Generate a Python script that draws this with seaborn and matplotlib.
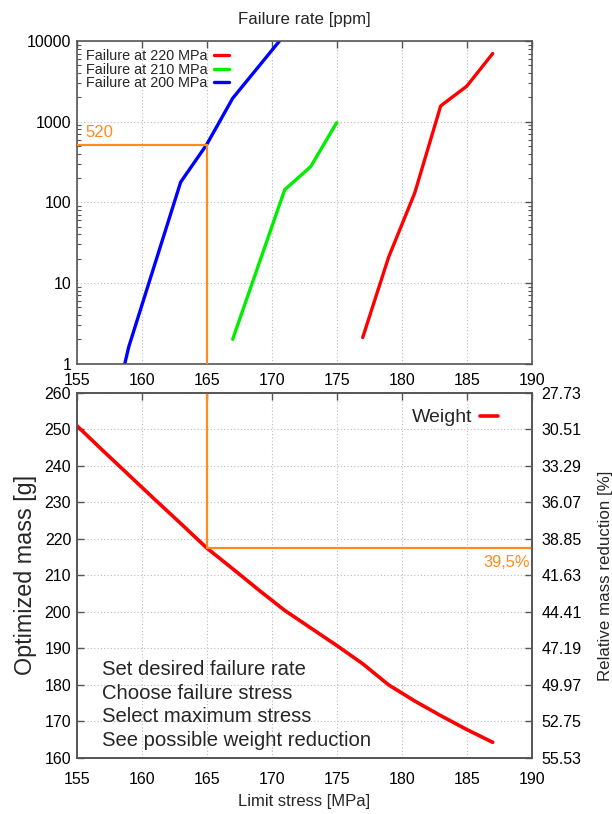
import numpy as np
import pandas as pd
import matplotlib
matplotlib.use("Agg")
import matplotlib.pyplot as plt
import seaborn as sns
from matplotlib.ticker import FixedLocator, NullFormatter, LogLocator

# ---------------- data ----------------
stress_220 = [177, 179, 181, 183, 185, 187]
rate_220 = [2.1, 21, 130, 1570, 2750, 7000]
stress_210 = [167, 171, 173, 175]
rate_210 = [2.0, 143, 277, 970]
stress_200 = [158.5, 159, 163, 165, 167, 171]
rate_200 = [0.72, 1.6, 178, 520, 1950, 12000]
series_labels = ["Failure at 220 MPa", "Failure at 210 MPa", "Failure at 200 MPa"]
series_colors = ["#ff0000", "#00ee00", "#0000ff"]

weight_stress = [155, 157, 159, 161, 163, 165, 167, 169, 171, 173, 175, 177, 179, 181, 183, 185, 187]
weight_mass = [251, 244.2, 237.5, 230.8, 224.2, 217.5, 211.8, 206.0, 200.4, 195.6, 190.8, 185.8, 180.0, 175.6, 171.6, 167.8, 164.3]

x_ticks = [155, 160, 165, 170, 175, 180, 185, 190]
rate_ticks = [1, 10, 100, 1000, 10000]
rate_tick_labels = ["1", "10", "100", "1000", "10000"]
mass_ticks = [160, 170, 180, 190, 200, 210, 220, 230, 240, 250, 260]
reduction_labels = ["55.53", "52.75", "49.97", "47.19", "44.41", "41.63",
                    "38.85", "36.07", "33.29", "30.51", "27.73"]

sel_stress = 165
sel_rate = 520
sel_mass = 217.5
sel_rate_label = "520"
sel_reduction_label = "39,5%"
notes = ["Set desired failure rate", "Choose failure stress",
         "Select maximum stress", "See possible weight reduction"]

# ---------------- style ----------------
sns.set_theme(style="white")
plt.rcParams["font.family"] = ["Liberation Sans", "DejaVu Sans"]
plt.rcParams["axes.edgecolor"] = "#555555"
plt.rcParams["axes.linewidth"] = 1.2

ORANGE = "#ff8a1e"
GRID = dict(color="#bbbbbb", linestyle=(0, (1, 2)), linewidth=0.8)
TICK_FS = 11.5

fig = plt.figure(figsize=(6.12, 8.14), dpi=100)
ax1 = fig.add_axes([0.1253, 0.5534, 0.7435, 0.3962])
ax2 = fig.add_axes([0.1253, 0.0688, 0.7435, 0.4488])

# ---------------- top panel ----------------
rows = []
for lab, xs, ys in zip(series_labels, [stress_220, stress_210, stress_200],
                       [rate_220, rate_210, rate_200]):
    for x, y in zip(xs, ys):
        rows.append({"stress": x, "rate": y, "series": lab})
df_top = pd.DataFrame(rows)
sns.lineplot(data=df_top, x="stress", y="rate", hue="series", hue_order=series_labels,
             palette=dict(zip(series_labels, series_colors)), sort=False,
             linewidth=2.4, ax=ax1, legend=True)
ax1.set_yscale("log")
ax1.set_xlim(155, 190)
ax1.set_ylim(1, 10000)
ax1.plot([155, sel_stress], [sel_rate, sel_rate], color=ORANGE, lw=1.6, zorder=5)
ax1.plot([sel_stress, sel_stress], [1, sel_rate], color=ORANGE, lw=1.6, zorder=5)
ax1.text(155.65, sel_rate * 1.15, sel_rate_label, color=ORANGE, fontsize=12,
         va="bottom", ha="left")

ax1.xaxis.set_major_locator(FixedLocator(x_ticks))
ax1.yaxis.set_major_locator(FixedLocator(rate_ticks))
ax1.set_yticklabels(rate_tick_labels)
ax1.yaxis.set_minor_locator(LogLocator(base=10, subs=np.arange(2, 10)))
ax1.yaxis.set_minor_formatter(NullFormatter())
ax1.tick_params(axis="both", which="major", direction="in", length=5, width=1,
                top=True, right=True, labelsize=TICK_FS, colors="#555555",
                labelcolor="black")
ax1.tick_params(axis="x", which="major", pad=7)
ax1.tick_params(axis="y", which="major", pad=4)
ax1.tick_params(axis="y", which="minor", direction="in", length=3, width=0.8,
                left=True, right=True, colors="#555555")
ax1.grid(True, which="major", **GRID)
ax1.set_xlabel("")
ax1.set_ylabel("")
ax1.set_title("Failure rate [ppm]", fontsize=12.2, pad=12)
leg = ax1.legend(loc="upper left", bbox_to_anchor=(0.007, 0.993), frameon=False,
                 markerfirst=False, handlelength=1.0, handletextpad=0.5,
                 fontsize=10.4, labelspacing=-0.02, borderaxespad=0.1,
                 borderpad=0.3)
for line in leg.get_lines():
    line.set_linewidth(2.4)

# ---------------- bottom panel ----------------
df_w = pd.DataFrame({"stress": weight_stress, "mass": weight_mass, "series": "Weight"})
sns.lineplot(data=df_w, x="stress", y="mass", hue="series", palette={"Weight": "#ff0000"},
             linewidth=2.6, ax=ax2, legend=True)
ax2.set_xlim(155, 190)
ax2.set_ylim(160, 260)
ax2.plot([sel_stress, sel_stress], [sel_mass, 260], color=ORANGE, lw=1.6, zorder=5)
ax2.plot([sel_stress, 190], [sel_mass, sel_mass], color=ORANGE, lw=1.6, zorder=5)
ax2.text(189.85, sel_mass - 4.0, sel_reduction_label, color=ORANGE, fontsize=11.8,
         ha="right", va="center")
for i, note in enumerate(notes):
    ax2.text(156.95, 184.1 - i * 6.4, note, fontsize=14.6, ha="left", va="center")

ax2.xaxis.set_major_locator(FixedLocator(x_ticks))
ax2.yaxis.set_major_locator(FixedLocator(mass_ticks))
ax2.tick_params(axis="both", which="major", direction="in", length=5, width=1,
                top=True, right=False, labelsize=TICK_FS, colors="#555555",
                labelcolor="black")
ax2.tick_params(axis="x", which="major", pad=10)
ax2.tick_params(axis="y", which="major", pad=4)
ax2.grid(True, which="major", **GRID)
ax2.set_xlabel("Limit stress [MPa]", fontsize=12, labelpad=5)
ax2.set_ylabel("Optimized mass [g]", fontsize=16.8, labelpad=5)
leg2 = ax2.legend(loc="upper right", bbox_to_anchor=(0.955, 0.993), frameon=False,
                  markerfirst=False, handlelength=0.9, handletextpad=0.4,
                  fontsize=14, borderaxespad=0.3)
leg2.texts[0].set_text("Weight")
for line in leg2.get_lines():
    line.set_linewidth(2.6)

ax3 = ax2.twinx()
ax3.set_ylim(160, 260)
ax3.yaxis.set_major_locator(FixedLocator(mass_ticks))
ax3.set_yticklabels(reduction_labels)
ax3.tick_params(axis="y", direction="in", length=5, width=1, labelsize=TICK_FS, pad=7,
                colors="#555555", labelcolor="black")
ax3.set_ylabel("Relative mass reduction [%]", fontsize=12.2, labelpad=12)
ax3.grid(False)

fig.savefig("out.png", dpi=100)
